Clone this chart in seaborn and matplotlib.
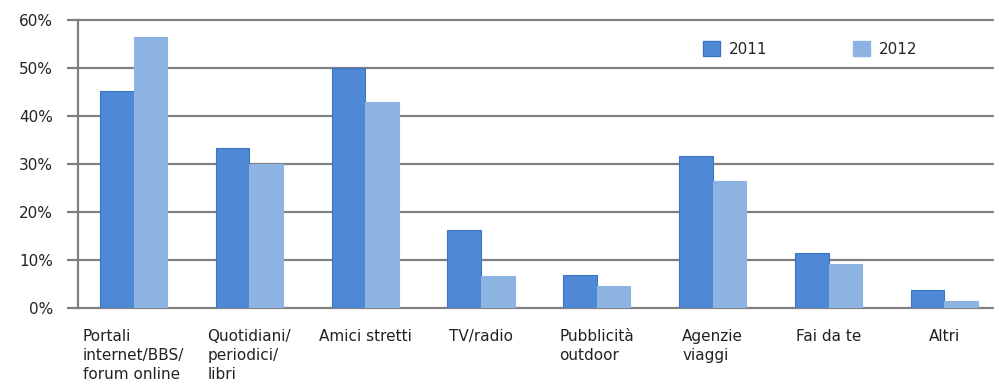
import seaborn as sns
import matplotlib.pyplot as plt
import pandas as pd
from matplotlib.ticker import PercentFormatter

# data
categories = ["Portali\ninternet/BBS/\nforum online", "Quotidiani/\nperiodici/\nlibri",
              "Amici stretti", "TV/radio", "Pubblicità\noutdoor", "Agenzie\nviaggi",
              "Fai da te", "Altri"]
years = ["2011", "2012"]
values_2011 = [45.3, 33.4, 50.0, 16.3, 6.8, 31.7, 11.5, 3.8]
values_2012 = [56.5, 30.0, 42.9, 6.6, 4.5, 26.5, 9.1, 1.5]
yticks = [0, 10, 20, 30, 40, 50, 60]

df = pd.DataFrame({
    "Categoria": categories * 2,
    "Valore": values_2011 + values_2012,
    "Anno": [years[0]] * len(categories) + [years[1]] * len(categories),
})

sns.set_style("white")
plt.rcParams["font.family"] = ["DejaVu Sans"]

fig = plt.figure(figsize=(9.99, 3.88), dpi=100)
ax = fig.add_axes([0.078, 0.206, 0.916, 0.742])

colors = ["#4f88d4", "#8db3e2"]
sns.barplot(data=df, x="Categoria", y="Valore", hue="Anno", palette=colors,
            width=0.58, ax=ax, saturation=1, legend=False)
edges = ["#3b74c4", "#8db3e2"]
for cont, ec in zip(ax.containers, edges):
    for bar in cont:
        bar.set_edgecolor(ec)
        bar.set_linewidth(0.8)

ax.set_ylim(0, 60)
ax.set_xlim(-0.48, 7.42)
ax.set_yticks(yticks)
ax.yaxis.set_major_formatter(PercentFormatter(decimals=0))
ax.set_axisbelow(True)
ax.grid(axis="y", color="#808080", linewidth=1.6)
ax.grid(axis="x", visible=False)
for gl in ax.yaxis.get_gridlines():
    gl.set_clip_on(False)

for s in ["top", "right", "bottom"]:
    ax.spines[s].set_visible(False)
ax.spines["left"].set_color("#808080")
ax.spines["left"].set_linewidth(1.6)

ax.tick_params(axis="y", length=8, width=1.6, color="#808080", pad=10,
               labelsize=11, labelcolor="#222222", left=True)
ax.tick_params(axis="x", length=0, pad=15, labelsize=11, labelcolor="#222222")
for lab in ax.get_xticklabels():
    lab.set_multialignment("left")
    lab.set_verticalalignment("top")
    lab.set_linespacing(1.35)
ax.set_xlabel("")
ax.set_ylabel("")

handles = [plt.Rectangle((0, 0), 1, 1, facecolor=c, edgecolor=e) for c, e in zip(colors, edges)]
ax.legend(handles, years, ncol=2, loc="center left", bbox_to_anchor=(0.668, 0.9),
          frameon=False, fontsize=11, handlelength=1.1, handleheight=1.1,
          columnspacing=5.6, handletextpad=0.6)

plt.savefig("out.png", dpi=100)
plt.close()
